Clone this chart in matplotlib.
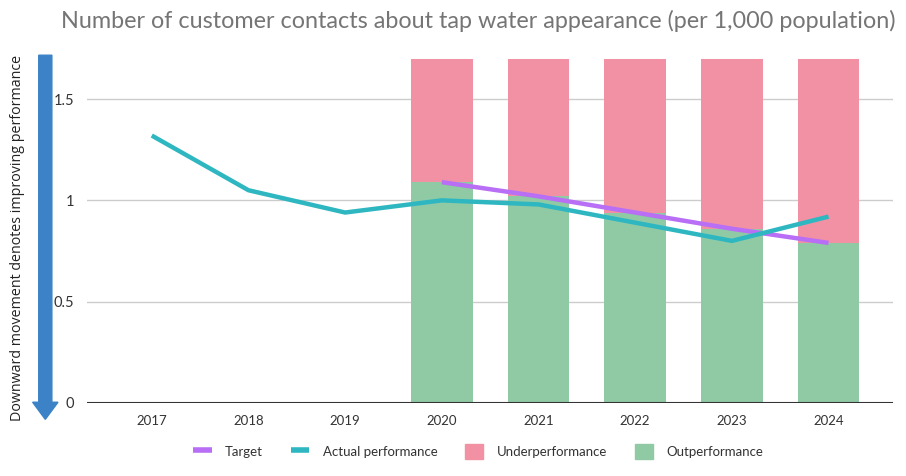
import numpy as np
import matplotlib.pyplot as plt
from matplotlib.patches import Patch, FancyArrow
from matplotlib.lines import Line2D

years = ["2017", "2018", "2019", "2020", "2021", "2022", "2023", "2024"]
actual = [1.32, 1.05, 0.94, 1.00, 0.98, 0.89, 0.80, 0.92]
target_years = ["2020", "2021", "2022", "2023", "2024"]
target = [1.09, 1.02, 0.94, 0.86, 0.79]
band_top = 1.7
y_ticks = [0, 0.5, 1, 1.5]
y_tick_labels = ["0", "0.5", "1", "1.5"]

c_target = "#B86EF5"
c_actual = "#2EB7C1"
c_under = "#F291A3"
c_out = "#8FCAA5"

font = "Lato"

fig = plt.figure(figsize=(9.06, 4.76), dpi=100)
ax = fig.add_axes([0.096, 0.1534, 0.89, 0.7236])

x = np.arange(len(years))
tx = np.array([years.index(y) for y in target_years])
under = [band_top - t for t in target]

ax.bar(tx, target, width=0.64, color=c_out, zorder=2)
ax.bar(tx, under, bottom=target, width=0.64, color=c_under, zorder=2)
ax.plot(tx, target, color=c_target, lw=3.2, solid_capstyle="butt", zorder=3)
ax.plot(x, actual, color=c_actual, lw=3.2, solid_capstyle="butt", zorder=4)

ax.set_xlim(-0.67, len(years) - 1 + 0.67)
ax.set_ylim(0, band_top)
ax.set_xticks(x)
ax.set_xticklabels(years, family=font, fontsize=9.5, color="#333333")
ax.set_yticks(y_ticks)
ax.set_yticklabels(y_tick_labels, family=font, fontsize=10.5, color="#333333")
ax.tick_params(axis="both", length=0, pad=9)
ax.grid(axis="y", color="#CCCCCC", lw=1, zorder=0)
ax.axhline(0, color="#333333", lw=1.5, zorder=5)
for s in ax.spines.values():
    s.set_visible(False)

fig.text(0.528, 0.957, "Number of customer contacts about tap water appearance (per 1,000 population)",
         ha="center", va="center", fontsize=16.8, color="#757575", family=font)

# arrow on the left showing direction of improvement
arrow = FancyArrow(0.050, 0.884, 0, -0.765, width=0.0145, head_width=0.028,
                   head_length=0.036, length_includes_head=True,
                   color="#3B83C6", transform=fig.transFigure, figure=fig)
fig.patches.append(arrow)
fig.text(0.019, 0.50, "Downward movement denotes improving performance", rotation=90,
         ha="center", va="center", fontsize=10.3, color="#222222", family="Open Sans")

handles = [
    Line2D([], [], color=c_target, lw=4, solid_capstyle="butt", label="Target"),
    Line2D([], [], color=c_actual, lw=4, solid_capstyle="butt", label="Actual performance"),
    Patch(color=c_under, label="Underperformance"),
    Patch(color=c_out, label="Outperformance"),
]
leg = fig.legend(handles=handles, loc="center", bbox_to_anchor=(0.528, 0.052), ncol=4,
                 frameon=False, prop={"family": font, "size": 9.5},
                 handlelength=1.4, handleheight=1.4, handletextpad=1.0, columnspacing=2.1)
for t in leg.get_texts():
    t.set_color("#333333")

fig.savefig("out.png", dpi=100)
